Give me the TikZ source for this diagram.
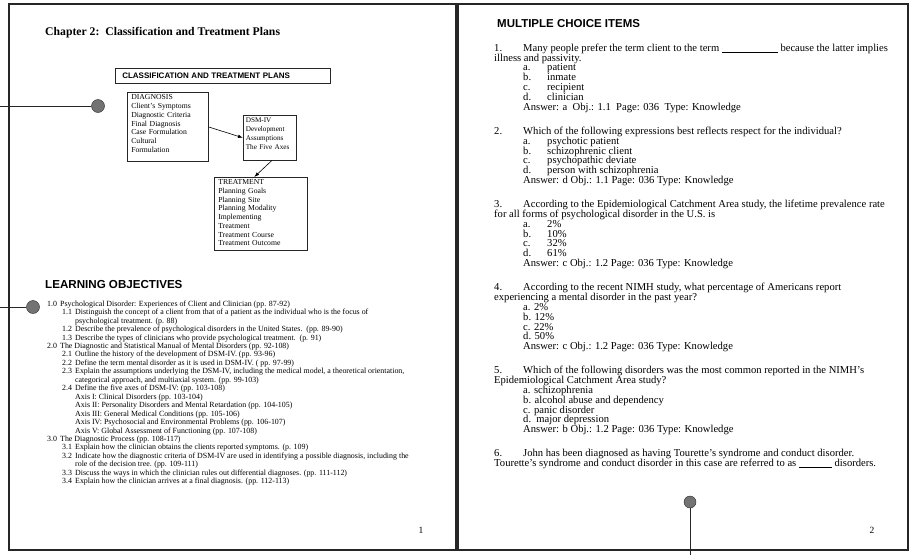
\documentclass[tikz,border=0pt]{standalone}
\usepackage{fontspec}
\setmainfont{Liberation Serif}
\setsansfont{Liberation Sans}
\usetikzlibrary{positioning,arrows.meta}

\newcommand{\opt}[2]{\hspace*{29pt}\makebox[24pt][l]{#1}#2}
\newcommand{\blank}[1]{\rule[-1pt]{#1}{0.5pt}}

\tikzset{
  page/.style={draw=black!85, line width=1.1pt},
  leader/.style={draw=black!85, line width=1pt},
  pinball/.style={circle, draw=black!85, fill=black!55, minimum size=13pt, inner sep=0pt},
  flowbox/.style={draw=black!85, line width=0.6pt, anchor=north west, align=left,
    inner xsep=4pt, inner ysep=2.5pt, font=\fontsize{7.7}{8.7}\selectfont},
  flowarrow/.style={line width=0.6pt, -{Latex[length=5pt,width=3.5pt]}},
  heading/.style={anchor=base west, inner sep=0pt, font=\sffamily\bfseries\fontsize{11.6}{13}\selectfont},
  objtext/.style={anchor=north west, inner sep=0pt, align=left,
    font=\fontsize{7.9}{8.45}\selectfont},
  qtext/.style={anchor=north west, inner sep=0pt, align=left,
    font=\fontsize{10.6}{9.9}\selectfont},
  pagenum/.style={inner sep=0pt, font=\fontsize{9.5}{10}\selectfont},
}

\begin{document}
\lineskiplimit=-20pt
\begin{tikzpicture}[x=1pt, y=-1pt]
\useasboundingbox (0,0) rectangle (910,555);

% the two pages
\draw[page] (9,4) rectangle (456,550);
\draw[page] (458,4) rectangle (908,550);

% page 1
\node[anchor=base west, inner sep=0pt, font=\bfseries\fontsize{11.7}{13}\selectfont] (chap) at (45,35)
  {Chapter 2:\ \ Classification and Treatment Plans};

\node[flowbox, text width=201pt, inner xsep=7pt, inner ysep=0pt, minimum height=15pt,
  font=\sffamily\bfseries\fontsize{8}{9}\selectfont] (plans) at (115,68)
  {CLASSIFICATION AND TREATMENT PLANS};

\node[flowbox, text width=73pt] (diag) at (127,92)
  {DIAGNOSIS\\Client's Symptoms\\Diagnostic Criteria\\Final Diagnosis\\Case Formulation\\Cultural\\Formulation\rule[-7pt]{0pt}{7pt}};
\node[flowbox, text width=48pt, inner xsep=2.5pt, font=\fontsize{7.2}{8.9}\selectfont] (dsm) at (243,115)
  {DSM-IV\\Development\\Assumptions\\The Five Axes\rule[-8.5pt]{0pt}{8.5pt}};
\node[flowbox, text width=85pt] (treat) at (214,177)
  {TREATMENT\\Planning Goals\\Planning Site\\Planning Modality\\Implementing\\Treatment\\Treatment Course\\Treatment Outcome\rule[-2.5pt]{0pt}{2.5pt}};

\draw[flowarrow] (diag.east) -- (dsm.west);
\draw[flowarrow] (dsm.-85) -- (treat.100);

\node[pinball] (pin1) at (98,106) {};
\coordinate (edge1) at (0,106);
\draw[leader] (edge1) -- (pin1);

\node[heading] (lohead) at (45,288.5) {LEARNING OBJECTIVES};

\node[pinball] (pin2) at (33,307) {};
\coordinate (edge2) at (0,307);
\draw[leader] (edge2) -- (pin2);

\node[objtext] (objlist) at (47,300.5) {%
\makebox[13pt][l]{1.0}Psychological Disorder: Experiences of Client and Clinician (pp. 87-92)\\
\hspace*{15pt}\makebox[13pt][l]{1.1}Distinguish the concept of a client from that of a patient as the individual who is the focus of\\
\hspace*{28pt}psychological treatment. (p. 88)\\
\hspace*{15pt}\makebox[13pt][l]{1.2}Describe the prevalence of psychological disorders in the United States.\ \ (pp. 89-90)\\
\hspace*{15pt}\makebox[13pt][l]{1.3}Describe the types of clinicians who provide psychological treatment.\ \ (p. 91)\\
\makebox[13pt][l]{2.0}The Diagnostic and Statistical Manual of Mental Disorders (pp. 92-108)\\
\hspace*{15pt}\makebox[13pt][l]{2.1}Outline the history of the development of DSM-IV. (pp. 93-96)\\
\hspace*{15pt}\makebox[13pt][l]{2.2}Define the term mental disorder as it is used in DSM-IV. ( pp. 97-99)\\
\hspace*{15pt}\makebox[13pt][l]{2.3}Explain the assumptions underlying the DSM-IV, including the medical model, a theoretical orientation,\\
\hspace*{28pt}categorical approach, and multiaxial system. (pp. 99-103)\\
\hspace*{15pt}\makebox[13pt][l]{2.4}Define the five axes of DSM-IV: (pp. 103-108)\\
\hspace*{28pt}Axis I: Clinical Disorders (pp. 103-104)\\
\hspace*{28pt}Axis II: Personality Disorders and Mental Retardation (pp. 104-105)\\
\hspace*{28pt}Axis III: General Medical Conditions (pp. 105-106)\\
\hspace*{28pt}Axis IV: Psychosocial and Environmental Problems (pp. 106-107)\\
\hspace*{28pt}Axis V: Global Assessment of Functioning (pp. 107-108)\\
\makebox[13pt][l]{3.0}The Diagnostic Process (pp. 108-117)\\
\hspace*{15pt}\makebox[13pt][l]{3.1}Explain how the clinician obtains the clients reported symptoms. (p. 109)\\
\hspace*{15pt}\makebox[13pt][l]{3.2}Indicate how the diagnostic criteria of DSM-IV are used in identifying a possible diagnosis, including the\\
\hspace*{28pt}role of the decision tree. (pp. 109-111)\\
\hspace*{15pt}\makebox[13pt][l]{3.3}Discuss the ways in which the clinician rules out differential diagnoses. (pp. 111-112)\\
\hspace*{15pt}\makebox[13pt][l]{3.4}Explain how the clinician arrives at a final diagnosis. (pp. 112-113)};

\node[pagenum] (num1) at (421,530) {1};

% page 2
\node[heading, font=\sffamily\bfseries\fontsize{11.5}{13}\selectfont] (mchead) at (497,27.5) {MULTIPLE CHOICE ITEMS};

\node[qtext] (q1) at (494,43.5) {%
\makebox[29pt][l]{1.}Many people prefer the term client to the term \blank{56pt} because the latter implies\\
illness and passivity.\\
\opt{a.}{patient}\\
\opt{b.}{inmate}\\
\opt{c.}{recipient}\\
\opt{d.}{clinician}\\
\hspace*{29pt}Answer: a\ \ Obj.: 1.1\ \ Page: 036\ \ Type: Knowledge};

\node[qtext, below=13.5pt of q1.south west, anchor=north west] (q2) {%
\makebox[29pt][l]{2.}Which of the following expressions best reflects respect for the individual?\\
\opt{a.}{psychotic patient}\\
\opt{b.}{schizophrenic client}\\
\opt{c.}{psychopathic deviate}\\
\opt{d.}{person with schizophrenia}\\
\hspace*{29pt}Answer: d Obj.: 1.1 Page: 036 Type: Knowledge};

\node[qtext, below=13.5pt of q2.south west, anchor=north west] (q3) {%
\makebox[29pt][l]{3.}According to the Epidemiological Catchment Area study, the lifetime prevalence rate\\
for all forms of psychological disorder in the U.S. is\\
\opt{a.}{2\%}\\
\opt{b.}{10\%}\\
\opt{c.}{32\%}\\
\opt{d.}{61\%}\\
\hspace*{29pt}Answer: c Obj.: 1.2 Page: 036 Type: Knowledge};

\node[qtext, below=13.5pt of q3.south west, anchor=north west] (q4) {%
\makebox[29pt][l]{4.}According to the recent NIMH study, what percentage of Americans report\\
experiencing a mental disorder in the past year?\\
\hspace*{29pt}a. 2\%\\
\hspace*{29pt}b. 12\%\\
\hspace*{29pt}c. 22\%\\
\hspace*{29pt}d. 50\%\\
\hspace*{29pt}Answer: c Obj.: 1.2 Page: 036 Type: Knowledge};

\node[qtext, below=13.5pt of q4.south west, anchor=north west] (q5) {%
\makebox[29pt][l]{5.}Which of the following disorders was the most common reported in the NIMH's\\
Epidemiological Catchment Area study?\\
\hspace*{29pt}a. schizophrenia\\
\hspace*{29pt}b. alcohol abuse and dependency\\
\hspace*{29pt}c. panic disorder\\
\hspace*{29pt}d.\ \ major depression\\
\hspace*{29pt}Answer: b Obj.: 1.2 Page: 036 Type: Knowledge};

\node[qtext, below=13.5pt of q5.south west, anchor=north west] (q6) {%
\makebox[29pt][l]{6.}John has been diagnosed as having Tourette's syndrome and conduct disorder.\\
Tourette's syndrome and conduct disorder in this case are referred to as \blank{33pt} disorders.};

\node[pinball, minimum size=12pt] (pin3) at (690,502) {};
\coordinate (edge3) at (690,555);
\draw[leader] (edge3) -- (pin3);

\node[pagenum] (num2) at (872,530) {2};
\end{tikzpicture}
\end{document}
